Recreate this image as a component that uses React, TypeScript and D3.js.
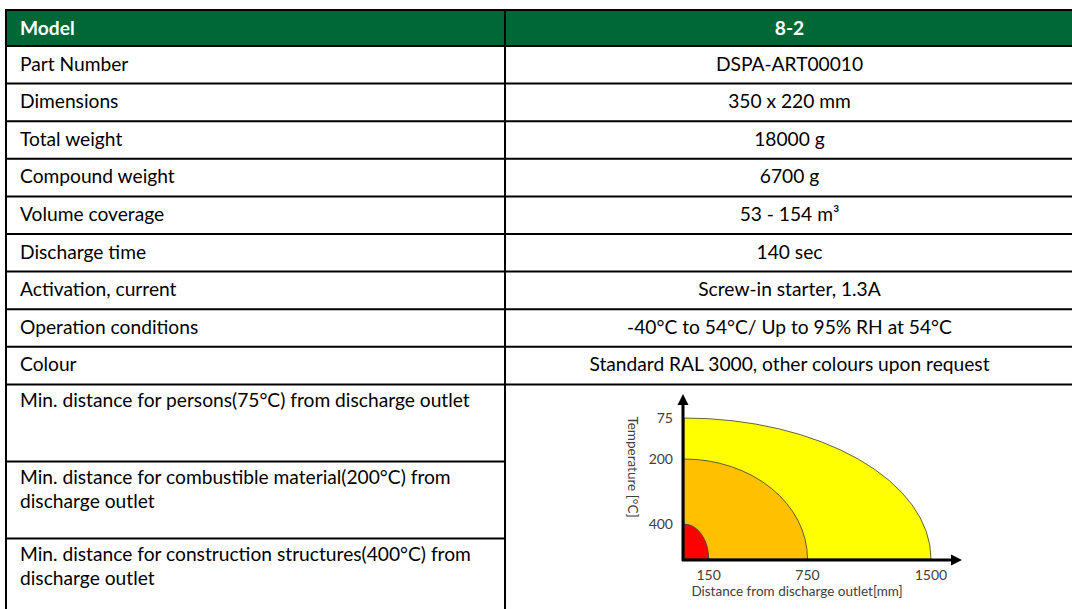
import React from "react";
import * as d3 from "d3";

// ---------- data ----------
const headerLabel = "Model";
const headerValue = "8-2";
const rowLabels = [
  "Part Number",
  "Dimensions",
  "Total weight",
  "Compound weight",
  "Volume coverage",
  "Discharge time",
  "Activation, current",
  "Operation conditions",
  "Colour",
];
const rowValues = [
  "DSPA-ART00010",
  "350 x 220 mm",
  "18000 g",
  "6700 g",
  "53 - 154 m³",
  "140 sec",
  "Screw-in starter, 1.3A",
  "-40°C to 54°C/ Up to 95% RH at 54°C",
  "Standard RAL 3000, other colours upon request",
];
const distanceLabels = [
  ["Min. distance for persons(75°C) from discharge outlet"],
  ["Min. distance for combustible material(200°C) from", "discharge outlet"],
  ["Min. distance for construction structures(400°C) from", "discharge outlet"],
];
const zoneTemps = [75, 200, 400];
const zoneDistances = [1500, 750, 150];
const zoneColors = ["#FFFF00", "#FFC000", "#FF0000"];
const xTicks = [150, 750, 1500];
const yTicks = [75, 200, 400];
const xTitle = "Distance from discharge outlet[mm]";
const yTitle = "Temperature [°C]";

// ---------- layout ----------
const W = 1072;
const H = 609;
const FONT = "Lato, 'Open Sans', sans-serif";
const FS = 19.2;
const tableLeft = 6;
const divX = 505;
const tableTop = 10;
const headerH = 36;
const rowH = 37.6;
const tallH = 77;

export default function App() {
  const rowTops = rowLabels.map((_, i) => tableTop + headerH + i * rowH);
  const tallTop0 = tableTop + headerH + rowLabels.length * rowH;
  const tallTops = distanceLabels.map((_, i) => tallTop0 + i * tallH);
  const hLines = [tableTop, tableTop + headerH, ...rowTops.slice(1), tallTop0, ...tallTops.slice(1)];
  const rightCenter = (divX + W) / 2 + 1;

  // chart scales
  const x0 = 684;
  const y0 = 559;
  const x = d3.scaleLinear().domain([0, 1500]).range([x0, 931]);
  const y = d3.scaleLinear().domain([400, 200, 75]).range([524, 459, 418]);

  const zones = zoneTemps.map((t, i) => ({ t, d: zoneDistances[i], c: zoneColors[i] }));

  return (
    <div style={{ position: "fixed", left: 0, top: 0, width: W, height: H, background: "#fff" }}>
      <svg width={W} height={H} style={{ display: "block" }} fontFamily={FONT}>
        {/* header */}
        <rect x={tableLeft} y={tableTop} width={W - tableLeft} height={headerH} fill="#006837" />
        <text x={20} y={tableTop + headerH / 2 + 6.5} fill="#fff" fontWeight="bold" fontSize={FS}>
          {headerLabel}
        </text>
        <text x={rightCenter} y={tableTop + headerH / 2 + 6.5} fill="#fff" fontWeight="bold" fontSize={FS} textAnchor="middle">
          {headerValue}
        </text>

        {/* simple rows */}
        {rowLabels.map((l, i) => (
          <g key={l}>
            <text x={20} y={rowTops[i] + 24.5} fontSize={FS} fill="#000">{l}</text>
            <text x={rightCenter} y={rowTops[i] + 24.5} fontSize={FS} fill="#000" textAnchor="middle">
              {rowValues[i]}
            </text>
          </g>
        ))}

        {/* tall rows */}
        {distanceLabels.map((lines, i) => (
          <text key={i} x={20} y={tallTops[i] + 22.5} fontSize={FS} fill="#000">
            {lines.map((ln, j) => (
              <tspan key={j} x={20} dy={j === 0 ? 0 : 24}>{ln}</tspan>
            ))}
          </text>
        ))}

        {/* grid lines */}
        {hLines.map((yy, i) => (
          <line key={i} x1={tableLeft - 1} x2={i < hLines.length - 2 ? W : divX} y1={yy} y2={yy}
            stroke="#000" strokeWidth={2} />
        ))}
        <line x1={tableLeft} x2={tableLeft} y1={tableTop - 1} y2={H} stroke="#000" strokeWidth={2} />
        <line x1={divX} x2={divX} y1={tableTop - 1} y2={H} stroke="#000" strokeWidth={2} />

        {/* chart zones */}
        {zones.map((z) => {
          const rx = x(z.d) - x0;
          const ry = y0 - y(z.t);
          return (
            <path key={z.t}
              d={`M${x0},${y0} L${x0},${y0 - ry} A${rx},${ry} 0 0 1 ${x0 + rx},${y0} Z`}
              fill={z.c} stroke="#3a3a3a" strokeWidth={0.8} />
          );
        })}

        {/* axes */}
        <line x1={x0 - 1} x2={x0 - 1} y1={y0 + 2} y2={400} stroke="#000" strokeWidth={3} />
        <path d={`M${x0 - 1},394 L${x0 - 6.5},405 L${x0 + 4.5},405 Z`} fill="#000" />
        <line x1={x0 - 2} x2={955} y1={y0 + 1} y2={y0 + 1} stroke="#000" strokeWidth={3} />
        <path d={`M962,${y0 + 1} L951,${y0 - 4.5} L951,${y0 + 6.5} Z`} fill="#000" />

        {/* ticks */}
        {yTicks.map((t) => (
          <text key={t} x={673} y={y(t) + 4.5} fontSize={14} fill="#404040" textAnchor="end">{t}</text>
        ))}
        {xTicks.map((t) => (
          <text key={t} x={x(t)} y={580} fontSize={14} fill="#404040" textAnchor="middle">{t}</text>
        ))}
        <text x={797} y={596} fontSize={13.5} fill="#404040" textAnchor="middle">{xTitle}</text>
        <text transform={`translate(628,467) rotate(90)`} fontSize={13.5} fill="#404040" textAnchor="middle">{yTitle}</text>
      </svg>
    </div>
  );
}
